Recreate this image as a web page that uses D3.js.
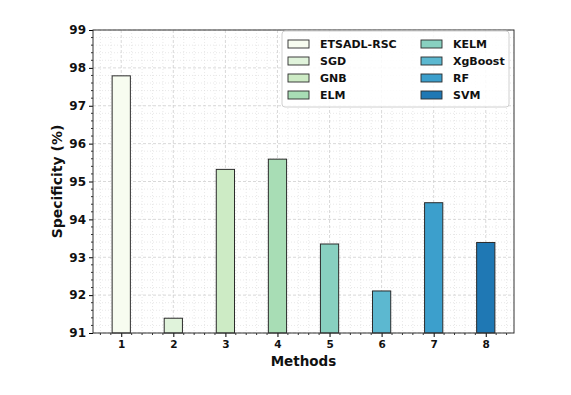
<!DOCTYPE html>
<html>
<head>
<meta charset="utf-8">
<script src="https://cdn.jsdelivr.net/npm/d3@7"></script>
<style>
  body { margin: 0; background: #fff; }
  text { font-family: "DejaVu Sans", sans-serif; font-weight: bold; fill: #111; }
</style>
</head>
<body>
<div id="chart"></div>
<script>
// chart data
var methods = ["1", "2", "3", "4", "5", "6", "7", "8"];
var names = ["ETSADL-RSC", "SGD", "GNB", "ELM", "KELM", "XgBoost", "RF", "SVM"];
var values = [97.79, 91.39, 95.32, 95.59, 93.35, 92.11, 94.44, 93.39];
var colors = ["#f7fcf0", "#e0f3db", "#cdebc5", "#a8ddb5", "#88d0c0", "#5cb8d0", "#3c9fcc", "#1f78b4"];
var yTicks = [91, 92, 93, 94, 95, 96, 97, 98, 99];

var W = 571, H = 395;
var margin = {top: 30, right: 57, bottom: 62, left: 93},
    width = W - margin.left - margin.right,
    height = H - margin.top - margin.bottom;

var svg = d3.select("#chart").append("svg")
  .attr("width", W).attr("height", H);
var chart = svg.append("g")
  .attr("transform", "translate(" + margin.left + "," + margin.top + ")");

var barW = 0.35;
var pad = (7 + barW) * 0.05;
var x = d3.scaleLinear()
  .domain([1 - barW / 2 - pad, 8 + barW / 2 + pad])
  .range([0, width]);
var y = d3.scaleLinear().domain([91, 99]).range([height, 0]);

// minor grid
var xMinor = d3.range(0.6, 8.5, 0.2).filter(function (v) { return Math.abs(v - Math.round(v)) > 0.01; });
var yMinor = d3.range(91, 99.01, 0.2).filter(function (v) { return Math.abs(v - Math.round(v)) > 0.01; });

chart.selectAll(".xminor").data(xMinor).enter().append("line")
  .attr("x1", d => x(d)).attr("x2", d => x(d))
  .attr("y1", 0).attr("y2", height)
  .style("stroke", "#dedede").style("stroke-width", 0.7).style("stroke-dasharray", "1,2");
chart.selectAll(".yminor").data(yMinor).enter().append("line")
  .attr("x1", 0).attr("x2", width)
  .attr("y1", d => y(d)).attr("y2", d => y(d))
  .style("stroke", "#dedede").style("stroke-width", 0.7).style("stroke-dasharray", "1,2");

// major grid
chart.selectAll(".xmajor").data(d3.range(1, 9)).enter().append("line")
  .attr("x1", d => x(d)).attr("x2", d => x(d))
  .attr("y1", 0).attr("y2", height)
  .style("stroke", "#cfcfcf").style("stroke-width", 0.8).style("stroke-dasharray", "3,2");
chart.selectAll(".ymajor").data(yTicks).enter().append("line")
  .attr("x1", 0).attr("x2", width)
  .attr("y1", d => y(d)).attr("y2", d => y(d))
  .style("stroke", "#cfcfcf").style("stroke-width", 0.8).style("stroke-dasharray", "3,2");

// bars
chart.selectAll(".bar").data(values).enter().append("rect")
  .attr("x", (d, i) => x(i + 1 - barW / 2))
  .attr("width", x(1 + barW / 2) - x(1 - barW / 2))
  .attr("y", d => y(d))
  .attr("height", d => height - y(d))
  .style("fill", (d, i) => colors[i])
  .style("stroke", "#2b2b2b").style("stroke-width", 1);

// axes
var xAxis = chart.append("g")
  .attr("transform", "translate(0," + height + ")")
  .call(d3.axisBottom(x).tickValues(d3.range(1, 9)).tickFormat((d, i) => methods[i]).tickSize(4).tickPadding(4));
var yAxis = chart.append("g")
  .call(d3.axisLeft(y).tickValues(yTicks).tickSize(4).tickPadding(3));
xAxis.selectAll("text").style("font-size", "10.5px");
yAxis.selectAll("text").style("font-size", "12px");
chart.selectAll(".domain").remove();

// minor ticks
chart.selectAll(".xmt").data(xMinor).enter().append("line")
  .attr("x1", d => x(d)).attr("x2", d => x(d))
  .attr("y1", height).attr("y2", height + 2)
  .style("stroke", "#333");
chart.selectAll(".ymt").data(yMinor).enter().append("line")
  .attr("x1", 0).attr("x2", -2)
  .attr("y1", d => y(d)).attr("y2", d => y(d))
  .style("stroke", "#333");

// frame
chart.append("rect")
  .attr("x", 0).attr("y", 0).attr("width", width).attr("height", height)
  .style("fill", "none").style("stroke", "#333").style("stroke-width", 1);

// labels
chart.append("text")
  .attr("text-anchor", "middle")
  .attr("x", width / 2).attr("y", height + 33)
  .style("font-size", "13.5px")
  .text("Methods");
chart.append("text")
  .attr("text-anchor", "middle")
  .attr("transform", "rotate(-90)")
  .attr("x", -height / 2).attr("y", -31)
  .style("font-size", "14px")
  .text("Specificity (%)");

// legend
var lg = chart.append("g").attr("transform", "translate(" + (282 - margin.left) + "," + (31 - margin.top) + ")");
lg.append("rect")
  .attr("width", 227).attr("height", 76).attr("rx", 3)
  .style("fill", "#fff").style("fill-opacity", 0.85)
  .style("stroke", "#d0d0d0").style("stroke-width", 1);
var items = lg.selectAll(".item").data(names).enter().append("g")
  .attr("transform", (d, i) => "translate(" + (i < 4 ? 6 : 139) + "," + (9 + (i % 4) * 17) + ")");
items.append("rect")
  .attr("width", 21).attr("height", 8)
  .style("fill", (d, i) => colors[i])
  .style("stroke", "#2b2b2b").style("stroke-width", 0.9);
items.append("text")
  .attr("x", 32).attr("y", 4)
  .attr("dominant-baseline", "central")
  .style("font-size", "11px")
  .text(d => d);
</script>
</body>
</html>
